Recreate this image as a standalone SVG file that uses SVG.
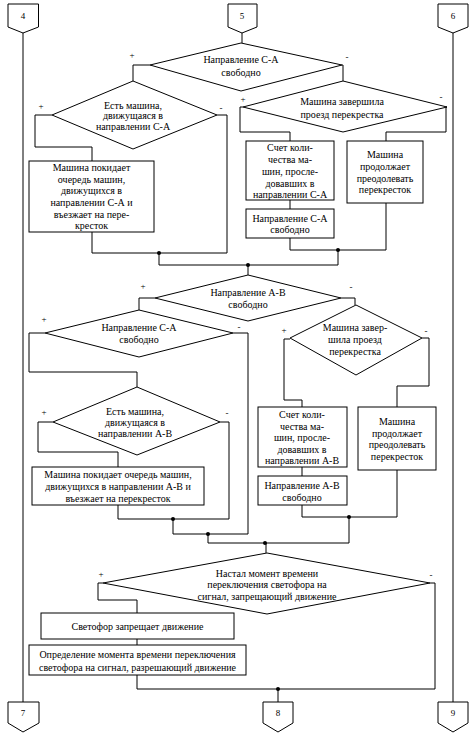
<svg xmlns="http://www.w3.org/2000/svg" width="472" height="739" viewBox="0 0 472 739">
<style>
.s{fill:#fff;stroke:#000;stroke-width:1}
.l{fill:none;stroke:#000;stroke-width:1}
.t{font-family:"Liberation Serif","Times New Roman",serif;font-size:10px;fill:#000;text-anchor:middle}
.p{font-family:"Liberation Serif","Times New Roman",serif;font-size:9px;fill:#000;text-anchor:middle}
.d{fill:#000}
</style>
<rect width="472" height="739" fill="#fff"/>
<g id="connectors">
<path class="l" d="M23,33 V702 M453,33 V702 M242,33 V43"/>
<path class="l" d="M150,65 H133 V81 M342,65 H343 V81"/>
<path class="l" d="M52,115 H35 V147 H92 V161 M217,115 H227 V253 H92 V232"/>
<path class="l" d="M243,107 H240 V132 H290 V141 M290,200 V209 M290,238 V250 H386 V203 M447,107 H446 V132 H386 V141"/>
<path class="l" d="M159,253 V265 H338 V250 M248,265 V275"/>
<path class="l" d="M155,298 H139 V310 M341,298 H355 V305"/>
<path class="l" d="M45,333 H29 V372 H137 V387 M233,333 H248 V534 H173 V519"/>
<path class="l" d="M53,422 H38 V452 H118 V467 M118,505 V519 H229 V422 H220"/>
<path class="l" d="M290,339 H284 V400 H302 V407 M302,467 V476 M302,505 V517 H397 V470 M422,338 H429 V386 H397 V407"/>
<path class="l" d="M208,534 V543 H349 V517 M266,543 V553"/>
<path class="l" d="M103,583 H98 V600 H137 V613 M137,639 V645 M137,675 V689 H435 V583 H430 M278,689 V702"/>
<circle class="d" cx="159" cy="253" r="2"/>
<circle class="d" cx="338" cy="250" r="2"/>
<circle class="d" cx="248" cy="265" r="2"/>
<circle class="d" cx="173" cy="519" r="2"/>
<circle class="d" cx="208" cy="534" r="2"/>
<circle class="d" cx="349" cy="517" r="2"/>
<circle class="d" cx="265" cy="543" r="2"/>
<circle class="d" cx="278" cy="689" r="2"/>
</g>
<g id="c4"><path class="s" d="M8,4 H38.5 V27 L23,33 L8,27 Z"/><text class="p" x="23" y="19">4</text></g>
<g id="c5"><path class="s" d="M228,4 H257 V27 L242,33 L228,27 Z"/><text class="p" x="242" y="19">5</text></g>
<g id="c6"><path class="s" d="M438,4 H468 V27 L453,33 L438,27 Z"/><text class="p" x="453" y="19">6</text></g>
<g id="c7"><path class="s" d="M8,702 H39 V723 L23,732 L8,723 Z"/><text class="p" x="23" y="716">7</text></g>
<g id="c8"><path class="s" d="M263,702 H293 V723 L278,732 L263,723 Z"/><text class="p" x="278" y="716">8</text></g>
<g id="c9"><path class="s" d="M438,702 H468 V723 L453,732 L438,723 Z"/><text class="p" x="453" y="716">9</text></g>
<g id="d1"><path class="s" d="M241,43 L342,65 L241,91 L150,65 Z"/>
<text class="t" x="241" y="62.5">Направление С-А</text><text class="t" x="241" y="75.5">свободно</text>
<text class="p" x="132" y="58">+</text><text class="p" x="347" y="60">-</text></g>
<g id="d2"><path class="s" d="M133,81 L217,115 L133,149 L52,115 Z"/>
<text class="t" x="133" y="108.5">Есть машина,</text><text class="t" x="133" y="119">движущаяся в</text><text class="t" x="133" y="129.5">направлении С-А</text>
<text class="p" x="41" y="109">+</text><text class="p" x="221" y="111">-</text></g>
<g id="b1"><rect class="s" x="29" y="161" width="125" height="71"/>
<text class="t" x="91.5" y="170.5">Машина покидает</text><text class="t" x="91.5" y="182.5">очередь машин,</text><text class="t" x="91.5" y="194">движущихся в</text><text class="t" x="91.5" y="205.5">направлении С-А и</text><text class="t" x="91.5" y="217.5">въезжает на пере-</text><text class="t" x="91.5" y="229">кресток</text></g>
<g id="d3"><path class="s" d="M343,81 L447,107 L343,132 L243,107 Z"/>
<text class="t" x="342" y="104.5">Машина завершила</text><text class="t" x="342" y="117.5">проезд перекрестка</text>
<text class="p" x="243" y="102">+</text><text class="p" x="441" y="100">-</text></g>
<g id="b2"><rect class="s" x="246" y="141" width="88" height="59"/>
<text class="t" x="290" y="150.5">Счет коли-</text><text class="t" x="290" y="162.5">чества ма-</text><text class="t" x="290" y="174.5">шин, просле-</text><text class="t" x="290" y="186.5">довавших в</text><text class="t" x="290" y="197.5">направлении С-А</text></g>
<g id="b3"><rect class="s" x="246" y="209" width="88" height="29"/>
<text class="t" x="290" y="221.5">Направление С-А</text><text class="t" x="290" y="232.5">свободно</text></g>
<g id="b4"><rect class="s" x="347" y="141" width="76" height="62"/>
<text class="t" x="385" y="157.5">Машина</text><text class="t" x="385" y="169.5">продолжает</text><text class="t" x="385" y="181.5">преодолевать</text><text class="t" x="385" y="192.5">перекресток</text></g>
<g id="d4"><path class="s" d="M248,275 L341,298 L248,321 L155,298 Z"/>
<text class="t" x="248" y="295.5">Направление А-В</text><text class="t" x="248" y="307.5">свободно</text>
<text class="p" x="143" y="289">+</text><text class="p" x="351" y="290">-</text></g>
<g id="d5"><path class="s" d="M139,310 L233,333 L139,357 L45,333 Z"/>
<text class="t" x="139" y="330.5">Направление С-А</text><text class="t" x="139" y="342.5">свободно</text>
<text class="p" x="44" y="322">+</text><text class="p" x="239" y="330">-</text></g>
<g id="d6"><path class="s" d="M137,387 L220,422 L137,455 L53,422 Z"/>
<text class="t" x="135" y="414.5">Есть машина,</text><text class="t" x="135" y="425.5">движущаяся в</text><text class="t" x="135" y="436.5">направлении А-В</text>
<text class="p" x="44" y="415">+</text><text class="p" x="227" y="416">-</text></g>
<g id="b5"><rect class="s" x="32" y="467" width="172" height="38"/>
<text class="t" x="118" y="477.5">Машина покидает очередь машин,</text><text class="t" x="118" y="490">движущихся в направлении А-В и</text><text class="t" x="118" y="502">въезжает на перекресток</text></g>
<g id="d7"><path class="s" d="M356,305 L422,338 L356,375 L290,338 Z"/>
<text class="t" x="355" y="330.5">Машина завер-</text><text class="t" x="355" y="342.5">шила проезд</text><text class="t" x="355" y="354.5">перекрестка</text>
<text class="p" x="284" y="333">+</text><text class="p" x="426" y="334">-</text></g>
<g id="b6"><rect class="s" x="258" y="407" width="89" height="60"/>
<text class="t" x="302" y="417.5">Счет коли-</text><text class="t" x="302" y="429.5">чества ма-</text><text class="t" x="302" y="440.5">шин, просле-</text><text class="t" x="302" y="452.5">довавших в</text><text class="t" x="302" y="464">направлении А-В</text></g>
<g id="b7"><rect class="s" x="258" y="476" width="89" height="29"/>
<text class="t" x="302" y="488.5">Направление А-В</text><text class="t" x="302" y="500.5">свободно</text></g>
<g id="b8"><rect class="s" x="358" y="407" width="78" height="63"/>
<text class="t" x="397" y="424.5">Машина</text><text class="t" x="397" y="436.5">продолжает</text><text class="t" x="397" y="447.5">преодолевать</text><text class="t" x="397" y="459.5">перекресток</text></g>
<g id="d8"><path class="s" d="M267,553 L430,583 L267,614 L103,583 Z"/>
<text class="t" x="267" y="576.5">Настал момент времени</text><text class="t" x="267" y="587.5">переключения светофора на</text><text class="t" x="267" y="599.5">сигнал, запрещающий движение</text>
<text class="p" x="101" y="577">+</text><text class="p" x="431" y="578">-</text></g>
<g id="b9"><rect class="s" x="41" y="613" width="193" height="26"/>
<text class="t" x="137.5" y="629.5">Светофор запрещает движение</text></g>
<g id="b10"><rect class="s" x="29" y="645" width="217" height="30"/>
<text class="t" x="137.5" y="657.5">Определение момента времени переключения</text><text class="t" x="137.5" y="671">светофора на сигнал, разрешающий движение</text></g>
</svg>
